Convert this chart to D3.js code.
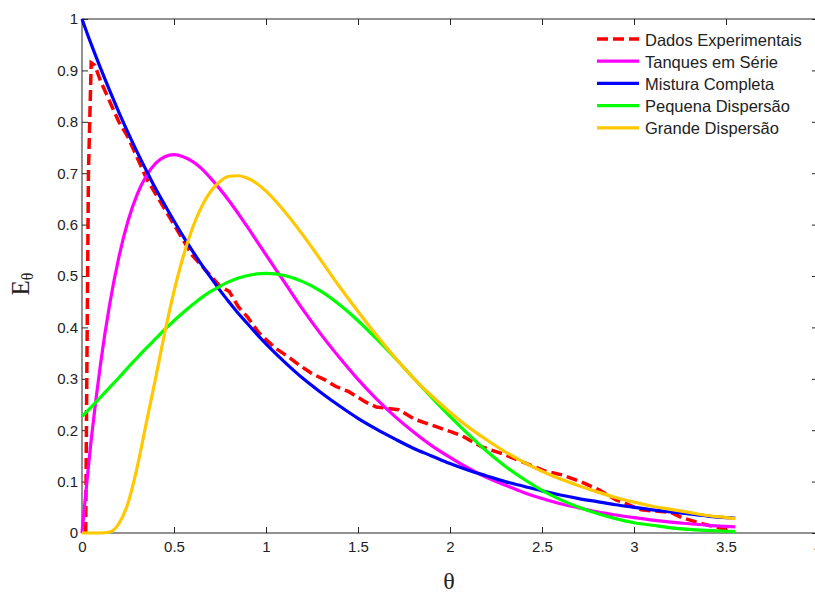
<!DOCTYPE html>
<html>
<head>
<meta charset="utf-8">
<script src="https://cdn.jsdelivr.net/npm/d3@7"></script>
<style>
  html, body { margin: 0; padding: 0; background: #fff; }
  svg { display: block; }
</style>
</head>
<body>
<svg id="chart" width="815" height="595"></svg>
<script>
// ---- data ----
const theta = [0,0.05,0.1,0.15,0.2,0.25,0.3,0.35,0.4,0.45,0.5,0.55,
  0.6,0.65,0.7,0.75,0.8,0.85,0.9,0.95,1.0,1.1,1.2,1.3,1.4,1.5,1.6,1.7,1.8,1.9,2.0,2.1,2.2,2.3,2.4,2.5,
  2.6,2.7,2.8,2.9,3.0,3.1,3.2,3.3,3.4,3.5,3.55];

const misturaCompleta = [1,0.951,0.905,0.861,0.819,0.779,0.741,0.705,0.670,0.638,0.607,0.577,
  0.549,0.522,0.497,0.472,0.449,0.427,0.407,0.387,0.368,0.333,0.301,0.273,0.247,0.223,0.202,0.183,0.165,0.150,0.135,
  0.122,0.111,0.100,0.091,0.082,0.074,0.067,0.061,0.055,0.050,0.045,0.041,0.037,0.033,0.030,0.029];

const tanquesSerie = [0,0.181,0.327,0.444,0.536,0.607,0.659,0.695,0.719,0.732,0.736,0.732,
  0.723,0.709,0.690,0.669,0.646,0.621,0.595,0.568,0.541,0.488,0.435,0.386,0.341,0.299,0.261,0.227,0.197,0.170,0.147,
  0.126,0.108,0.093,0.079,0.067,0.057,0.049,0.041,0.035,0.030,0.025,0.021,0.018,0.015,0.013,0.012];

const pequenaDispersao = [0.227,0.245,0.264,0.283,0.302,0.322,0.341,0.360,0.378,0.396,0.413,0.429,
  0.444,0.458,0.470,0.480,0.489,0.496,0.501,0.504,0.505,0.501,0.489,0.470,0.444,0.413,0.378,0.341,0.302,0.264,0.227,
  0.192,0.159,0.130,0.105,0.083,0.065,0.050,0.038,0.028,0.020,0.015,0.010,0.007,0.005,0.0034,0.0028];

const grandeDispersao = [0,0,0,0.002,0.018,0.058,0.128,0.215,0.301,0.390,0.470,0.538,
  0.593,0.635,0.665,0.684,0.694,0.695,0.690,0.680,0.665,0.626,0.580,0.530,0.479,0.431,0.385,0.342,0.302,0.267,0.235,
  0.206,0.181,0.158,0.138,0.120,0.105,0.092,0.080,0.069,0.060,0.052,0.046,0.040,0.034,0.030,0.028];

const expTheta = [0.02,0.025,0.035,0.05,0.07,0.1,0.15,0.2,0.25,0.3,0.35,0.4,0.45,0.5,0.55,0.6,
  0.65,0.7,0.75,0.8,0.85,0.9,0.96,1.05,1.12,1.18,1.25,1.32,1.38,1.45,1.54,1.6,1.72,1.81,
  1.94,2.06,2.17,2.3,2.39,2.52,2.61,2.71,2.81,2.9,3.04,3.2,3.26,3.35,3.44,3.52];
const expE = [0,0.25,0.70,0.915,0.91,0.88,0.84,0.80,0.77,0.73,0.69,0.66,0.63,0.60,0.57,0.54,
  0.52,0.50,0.48,0.47,0.44,0.42,0.39,0.36,0.343,0.327,0.31,0.298,0.285,0.275,0.255,0.245,
  0.24,0.221,0.205,0.19,0.168,0.152,0.139,0.12,0.113,0.1,0.084,0.065,0.045,0.04,0.03,0.02,0.012,0.004];

const xTicks = [0,0.5,1,1.5,2,2.5,3,3.5,4];
const xTickLabels = ["0","0.5","1","1.5","2","2.5","3","3.5","4"];
const yTicks = [0,0.1,0.2,0.3,0.4,0.5,0.6,0.7,0.8,0.9,1];
const yTickLabels = ["0","0.1","0.2","0.3","0.4","0.5","0.6","0.7","0.8","0.9","1"];

const seriesNames = ["Dados Experimentais","Tanques em Série","Mistura Completa","Pequena Dispersão","Grande Dispersão"];
const seriesColors = ["#ff0000","#ff00ff","#0000ff","#00ff00","#ffc800"];

// ---- layout ----
const svg = d3.select("#chart");
const L = 82, R = 818, T = 19, B = 533;
const x = d3.scaleLinear().domain([0,4]).range([L,R]);
const y = d3.scaleLinear().domain([0,1]).range([B,T]);
const tickFont = "'Liberation Sans', Arial, sans-serif";
const axisColor = "#262626";

// box
svg.append("rect").attr("x",L).attr("y",T).attr("width",R-L).attr("height",B-T)
  .attr("fill","none").attr("stroke",axisColor).attr("stroke-width",1);

function styleAxis(g, showText) {
  g.select(".domain").remove();
  g.selectAll(".tick line").attr("stroke",axisColor).attr("stroke-width",1);
  g.selectAll(".tick text").attr("fill","#222").style("font-family",tickFont).style("font-size","15px");
  if (!showText) g.selectAll(".tick text").remove();
}

const xAxis = svg.append("g").attr("transform",`translate(0,${B})`)
  .call(d3.axisBottom(x).tickValues(xTicks).tickFormat((d,i)=>xTickLabels[i]).tickSize(-6).tickPadding(8));
styleAxis(xAxis, true);
const xAxisTop = svg.append("g").attr("transform",`translate(0,${T})`)
  .call(d3.axisTop(x).tickValues(xTicks).tickSize(-6));
styleAxis(xAxisTop, false);
const yAxis = svg.append("g").attr("transform",`translate(${L},0)`)
  .call(d3.axisLeft(y).tickValues(yTicks).tickFormat((d,i)=>yTickLabels[i]).tickSize(-6).tickPadding(4));
styleAxis(yAxis, true);
const yAxisRight = svg.append("g").attr("transform",`translate(${R},0)`)
  .call(d3.axisRight(y).tickValues(yTicks).tickSize(-6));
styleAxis(yAxisRight, false);

// ---- lines ----
const line = d3.line().x(d=>x(d[0])).y(d=>y(d[1]));
const smooth = d3.line().x(d=>x(d[0])).y(d=>y(d[1])).curve(d3.curveMonotoneX);

const expPts = expTheta.map((t,i)=>[t, expE[i]]);
svg.append("path").datum(expPts).attr("d",line)
  .attr("fill","none").attr("stroke",seriesColors[0]).attr("stroke-width",3.5)
  .attr("stroke-dasharray","11,5");

[tanquesSerie, misturaCompleta, pequenaDispersao, grandeDispersao].forEach((vals,k)=>{
  const pts = theta.map((t,i)=>[t, vals[i]]);
  svg.append("path").datum(pts).attr("d",smooth)
    .attr("fill","none").attr("stroke",seriesColors[k+1]).attr("stroke-width",3.2)
    .attr("stroke-linejoin","round");
});

// ---- legend ----
const legY0 = 39, legStep = 22.2;
seriesNames.forEach((name,i)=>{
  const yy = legY0 + i*legStep;
  const l = svg.append("line").attr("x1",597).attr("x2",639).attr("y1",yy).attr("y2",yy)
    .attr("stroke",seriesColors[i]).attr("stroke-width",i===0?3.5:3.2);
  if (i===0) l.attr("stroke-dasharray","11,5");
  svg.append("text").attr("x",645).attr("y",yy+6.5).text(name)
    .style("font-family",tickFont).style("font-size","16.5px").attr("fill","#222");
});

// ---- axis labels ----
svg.append("text").attr("x",(L+R)/2 - 1).attr("y",589).attr("text-anchor","middle")
  .style("font-family","'Liberation Serif','Times New Roman',serif").style("font-size","24px")
  .attr("fill","#222").text("θ");

const yl = svg.append("text").attr("transform","translate(29,284) rotate(-90)")
  .attr("text-anchor","middle")
  .style("font-family","'Liberation Serif','Times New Roman',serif").style("font-size","25px")
  .attr("fill","#222");
yl.append("tspan").text("E");
yl.append("tspan").attr("dy","4").style("font-size","16px").text("θ");
</script>
</body>
</html>
